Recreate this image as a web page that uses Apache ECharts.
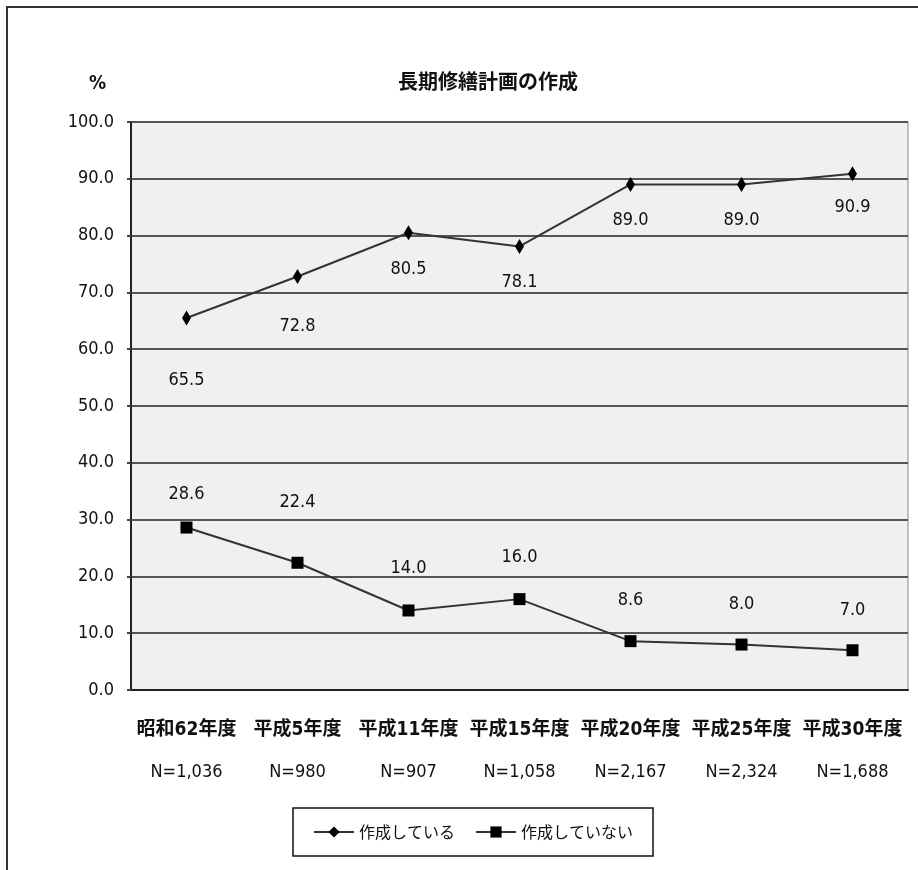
<!DOCTYPE html>
<html lang="ja">
<head>
  <meta charset="UTF-8">
  <title>長期修繕計画の作成</title>
  <script src="https://cdn.jsdelivr.net/npm/echarts@6/dist/echarts.min.js"></script>
  <style>
    html,body{margin:0;padding:0;background:#fff;}
    #wrap{position:relative;width:918px;height:870px;}
    #frame{position:absolute;left:6px;top:6px;right:0;bottom:0;border-top:2px solid #333;border-left:2px solid #333;pointer-events:none;}
    #main{width:918px;height:870px;}
  </style>
</head>
<body>
  <div id="wrap">
    <div id="main"></div>
    <div id="frame"></div>
  </div>
  <script>
    // 年度
    var categories = ['昭和62年度', '平成5年度', '平成11年度', '平成15年度', '平成20年度', '平成25年度', '平成30年度'];
    var nLabels = ['N=1,036', 'N=980', 'N=907', 'N=1,058', 'N=2,167', 'N=2,324', 'N=1,688'];
    // 作成している / 作成していない (%)
    var doneValues = [65.5, 72.8, 80.5, 78.1, 89.0, 89.0, 90.9];
    var notDoneValues = [28.6, 22.4, 14.0, 16.0, 8.6, 8.0, 7.0];
    var seriesNames = ['作成している', '作成していない'];

    var numFont = "'DejaVu Sans Condensed', 'Noto Sans CJK JP', sans-serif";
    var cjkFont = "'Noto Sans CJK JP', sans-serif";

    // ラベルのずれ（見た目の調整用）
    var doneShift = [62, 50, 37, 36, 36, 36, 34];
    var notDoneShift = [-33, -60, -42, -42, -41, -40, -40];

    function makeData(vals, shifts){
      return vals.map(function(v, i){
        return {value: v, label: {offset: [0, shifts[i]]}};
      });
    }

    var valueLabel = {
      show: true,
      position: 'inside',
      fontFamily: numFont,
      fontSize: 18,
      color: '#111',
      formatter: function(p){ return p.value.toFixed(1); }
    };

    var myChart = echarts.init(document.getElementById('main'));
    var option = {
      animation: false,
      title: {
        text: '長期修繕計画の作成',
        left: 483,
        textAlign: 'center',
        top: 66,
        textStyle: {fontFamily: cjkFont, fontSize: 20, fontWeight: 'bold', color: '#111'}
      },
      graphic: [{
        type: 'text',
        left: 89,
        top: 75,
        style: {text: '%', font: 'bold 19px ' + numFont, fill: '#111'}
      }],
      legend: {
        left: 293,
        top: 808,
        padding: [16, 20, 16, 20],
        borderColor: '#111',
        borderWidth: 1.5,
        itemWidth: 40,
        itemHeight: 14,
        itemGap: 20,
        textStyle: {fontFamily: cjkFont, fontSize: 16, color: '#111'},
        data: seriesNames
      },
      grid: {
        left: 131,
        right: 10,
        top: 122,
        bottom: 180,
        show: true,
        backgroundColor: '#f0f0f0',
        borderColor: '#888',
        borderWidth: 1
      },
      xAxis: {
        type: 'category',
        data: categories,
        boundaryGap: true,
        axisLine: {lineStyle: {color: '#222', width: 2}},
        axisTick: {inside: true, length: 10, lineStyle: {color: '#222', width: 1}},
        axisLabel: {
          interval: 0,
          margin: 19,
          color: '#111',
          formatter: function(v, i){ return '{a|' + v + '}\n{b|' + nLabels[i] + '}'; },
          rich: {
            a: {fontFamily: numFont, fontSize: 19, fontWeight: 'bold', lineHeight: 42, color: '#111'},
            b: {fontFamily: numFont, fontSize: 18, lineHeight: 42, color: '#111'}
          }
        }
      },
      yAxis: {
        type: 'value',
        min: 0,
        max: 100,
        interval: 10,
        axisLine: {show: true, lineStyle: {color: '#222', width: 2}},
        axisTick: {show: true, length: 4, lineStyle: {color: '#444', width: 2}},
        splitLine: {lineStyle: {color: '#555', width: 2}},
        axisLabel: {
          margin: 17,
          fontFamily: numFont,
          fontSize: 18,
          color: '#111',
          formatter: function(v){ return v.toFixed(1); }
        }
      },
      series: [{
        name: seriesNames[0],
        type: 'line',
        data: makeData(doneValues, doneShift),
        symbol: 'diamond',
        symbolSize: [9, 15],
        lineStyle: {color: '#333', width: 2},
        itemStyle: {color: '#000'},
        label: valueLabel
      }, {
        name: seriesNames[1],
        type: 'line',
        data: makeData(notDoneValues, notDoneShift),
        symbol: 'rect',
        symbolSize: 12,
        lineStyle: {color: '#333', width: 2},
        itemStyle: {color: '#000'},
        label: valueLabel
      }]
    };
    myChart.setOption(option);
  </script>
</body>
</html>
